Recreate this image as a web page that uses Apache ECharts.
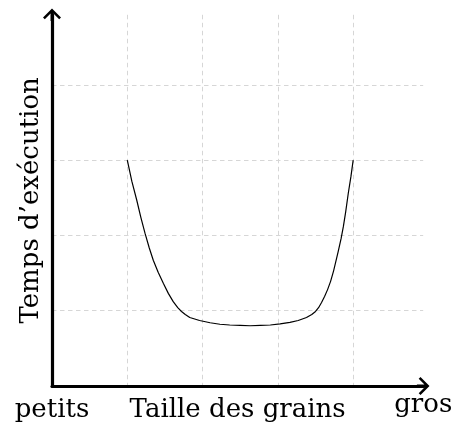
<!DOCTYPE html>
<html>
<head>
<meta charset="utf-8">
<script src="https://cdn.jsdelivr.net/npm/echarts@6/dist/echarts.min.js"></script>
<style>html,body{margin:0;padding:0;background:#fff;}#c{width:459px;height:425px;}</style>
</head>
<body>
<div id="c"></div>
<script>
// Data (arbitrary units)
var curveX = [1.0, 1.06, 1.125, 1.18, 1.235, 1.29, 1.345, 1.41, 1.48, 1.545, 1.61, 1.67, 1.72, 1.77, 1.83, 1.96, 2.1, 2.23, 2.36, 2.5, 2.63, 2.77, 2.9, 3.03, 3.16, 3.27, 3.38, 3.45, 3.5, 3.54, 3.58, 3.62, 3.66, 3.7, 3.74, 3.8, 3.84, 3.87, 3.9, 3.935, 3.97, 4.0];
var curveY = [3.0, 2.72, 2.47, 2.24, 2.03, 1.84, 1.67, 1.51, 1.36, 1.23, 1.12, 1.04, 0.99, 0.95, 0.91, 0.87, 0.84, 0.82, 0.81, 0.805, 0.80, 0.805, 0.81, 0.825, 0.845, 0.87, 0.91, 0.95, 0.99, 1.04, 1.11, 1.19, 1.28, 1.39, 1.53, 1.78, 1.96, 2.12, 2.31, 2.56, 2.78, 3.0];
var xTickLabels = ['petits', 'gros'];
var xTitle = 'Taille des grains';
var yTitle = 'Temps d\u2019ex\u00e9cution';
var xMax = 4.93, yMax = 4.93;

var arrowPath = 'path://M10,0 L20,10 L18,12 L11.6,5.6 L11.6,14 L8.4,14 L8.4,5.6 L2,12 L0,10 Z';
var font = '"DejaVu Serif", "Liberation Serif", serif';
var fs = 26;

var chart = echarts.init(document.getElementById('c'), null, {renderer: 'canvas'});
var pts = curveX.map(function (x, i) { return [x, curveY[i]]; });

var gridLine = {show: true, showMinLine: false, showMaxLine: false,
  lineStyle: {color: '#d6d6d6', width: 1, type: [4.5, 3.5]}};

chart.setOption({
  animation: false,
  grid: {left: 52, top: 14.8, bottom: 39, right: 35.8, containLabel: false, outerBoundsMode: 'none'},
  xAxis: {
    type: 'value', min: 0, max: xMax, interval: 1,
    name: xTitle, nameLocation: 'middle', nameGap: 11, nameMoveOverlap: false,
    nameTextStyle: {fontFamily: font, fontSize: fs, color: '#000', verticalAlign: 'top'},
    axisLine: {show: true, symbol: ['none', arrowPath], symbolSize: [18, 14],
      lineStyle: {color: '#000', width: 3.2}},
    axisTick: {show: false},
    splitLine: gridLine,
    axisLabel: {
      show: true, showMinLabel: true, showMaxLabel: true, margin: 11,
      fontFamily: font, fontSize: fs, color: '#000', hideOverlap: false,
      rich: {g: {fontFamily: font, fontSize: fs, color: '#000', lineHeight: 16}},
      formatter: function (v) {
        if (v === 0) return xTickLabels[0];
        if (Math.abs(v - xMax) < 1e-6) return '{g|' + xTickLabels[1] + '}';
        return '';
      }
    }
  },
  yAxis: {
    type: 'value', min: 0, max: yMax, interval: 1,
    name: yTitle, nameLocation: 'middle', nameGap: 8, nameRotate: 90, nameMoveOverlap: false,
    nameTextStyle: {fontFamily: font, fontSize: fs, color: '#000'},
    axisLine: {show: true, symbol: ['none', arrowPath], symbolSize: [18, 14],
      lineStyle: {color: '#000', width: 3.2}},
    axisTick: {show: false},
    axisLabel: {show: false},
    splitLine: gridLine
  },
  series: [{
    type: 'line', data: pts, smooth: false, showSymbol: false,
    lineStyle: {color: '#000', width: 1.2, join: 'round'}, z: 5
  }]
});
</script>
</body>
</html>
